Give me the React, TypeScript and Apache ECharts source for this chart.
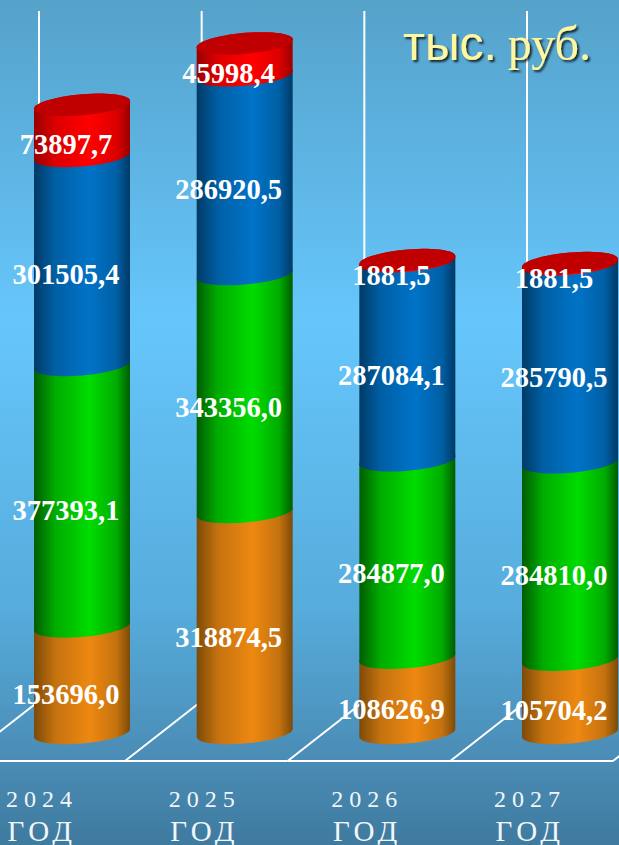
import React, { useEffect, useRef } from "react";
import * as echarts from "echarts";

const years = ["2024", "2025", "2026", "2027"];
const orangeValues = [153696.0, 318874.5, 108626.9, 105704.2];
const greenValues = [377393.1, 343356.0, 284877.0, 284810.0];
const blueValues = [301505.4, 286920.5, 287084.1, 285790.5];
const redValues = [73897.7, 45998.4, 1881.5, 1881.5];
const stackValues = [orangeValues, greenValues, blueValues, redValues];
const stackNames = ["Оранжевый", "Зелёный", "Синий", "Красный"];
const stackRamps = [
  ["#7d4a07", "#c4720f", "#ee8811"],
  ["#005c00", "#00ac00", "#00dc00"],
  ["#003a66", "#005fa4", "#0073c8"],
  ["#990000", "#dc0000", "#ff0000"],
];
const capColor = "#c00000";
const RX = 48;
const RY = 10.5;
const TILT = 4;
const STEP = 162.67;

const fmt = (v: number) => v.toFixed(1).replace(".", ",");

function arc(cx: number, cy: number, from: number, to: number): number[][] {
  const pts: number[][] = [];
  const n = 30;
  for (let i = 0; i <= n; i++) {
    const t = from + ((to - from) * i) / n;
    pts.push([cx + RX * Math.cos(t), cy + RY * Math.sin(t) - TILT * Math.cos(t)]);
  }
  return pts;
}

function stackedRows(idx: number) {
  return years.map((_, c) => {
    let base = 0;
    for (let s = 0; s < idx; s++) base += stackValues[s][c];
    return [c, base, base + stackValues[idx][c], stackValues[idx][c]];
  });
}

function ramp(colors: string[]) {
  return new echarts.graphic.LinearGradient(0, 0, 1, 0, [
    { offset: 0, color: colors[0] },
    { offset: 0.22, color: colors[1] },
    { offset: 0.58, color: colors[2] },
    { offset: 0.86, color: colors[1] },
    { offset: 1, color: colors[0] },
  ]);
}

function segmentSeries(idx: number) {
  const fill = ramp(stackRamps[idx]);
  return {
    type: "custom",
    name: stackNames[idx],
    z: 3 + idx,
    clip: false,
    data: stackedRows(idx),
    encode: { x: 0, y: 2 },
    renderItem: (_: any, api: any) => {
      const bottom = api.coord([api.value(0), api.value(1)]);
      const top = api.coord([api.value(0), api.value(2)]);
      const cx = bottom[0];
      const children: any[] = [
        {
          type: "polygon",
          shape: { points: [...arc(cx, bottom[1], Math.PI, 0), ...arc(cx, top[1], 0, -Math.PI)] },
          style: { fill },
        },
      ];
      if (idx === stackValues.length - 1) {
        children.push({
          type: "polygon",
          shape: { points: [...arc(cx, top[1], Math.PI, 0), ...arc(cx, top[1], 0, -Math.PI)] },
          style: { fill: capColor },
        });
      }
      return { type: "group", children };
    },
  };
}

function labelSeries() {
  const rows: number[][] = [];
  stackValues.forEach((_, i) => rows.push(...stackedRows(i)));
  return {
    type: "custom",
    name: "Подписи",
    z: 20,
    clip: false,
    data: rows,
    encode: { x: 0, y: 2 },
    renderItem: (_: any, api: any) => {
      const mid = api.coord([api.value(0), (api.value(1) + api.value(2)) / 2]);
      return {
        type: "text",
        x: mid[0] - 16,
        y: mid[1] + 14.5,
        style: {
          text: fmt(api.value(3)),
          fill: "#ffffff",
          font: 'bold 28.5px "Liberation Serif"',
          align: "center",
          verticalAlign: "middle",
        },
      };
    },
  };
}

function frameSeries() {
  return {
    type: "custom",
    name: "Каркас",
    z: 1,
    clip: false,
    data: years.map((_, c) => [c, 0]),
    encode: { x: 0, y: 1 },
    renderItem: (params: any, api: any) => {
      const p = api.coord([api.value(0), 0]);
      const cx = p[0];
      const lineStyle = { stroke: "#ffffff", lineWidth: 2, fill: "none" };
      const floorY = p[1] + 28;
      const isLast = params.dataIndex === years.length - 1;
      const footLeft = cx + 43 - STEP;
      const children: any[] = [
        {
          type: "polyline",
          shape: { points: [[footLeft, floorY], [cx - 43, floorY - 60], [cx - 43, 11]] },
          style: lineStyle,
        },
        {
          type: "line",
          shape: { x1: footLeft, y1: floorY, x2: cx + 43, y2: floorY },
          style: lineStyle,
        },
      ];
      if (isLast) {
        children.push({
          type: "line",
          shape: { x1: cx + 43, y1: floorY, x2: cx + 43 + 20, y2: floorY - 15.6 },
          style: lineStyle,
        });
      }
      return { type: "group", children };
    },
  };
}

export default function App() {
  const ref = useRef<HTMLDivElement>(null);
  useEffect(() => {
    document.body.style.margin = "0";
    const chart = echarts.init(ref.current!, undefined, { renderer: "svg" });
    const titleText = {
      fontSize: 48,
      fontWeight: "normal",
      color: "#fff6a0",
      textShadowColor: "rgba(0,0,0,0.8)",
      textShadowBlur: 2,
      textShadowOffsetX: 2,
      textShadowOffsetY: 2,
    };
    chart.setOption({
      animation: false,
      backgroundColor: new echarts.graphic.LinearGradient(0, 0, 0, 1, [
        { offset: 0, color: "#55a2ca" },
        { offset: 0.38, color: "#66c6fb" },
        { offset: 0.72, color: "#56acdc" },
        { offset: 0.9, color: "#4a8cb5" },
        { offset: 1, color: "#3f7a9f" },
      ]),
      title: {
        text: "{a|тыс.} {b|руб.}",
        left: 403,
        top: 19,
        padding: 0,
        textStyle: {
          rich: {
            a: { ...titleText, fontFamily: "Liberation Sans" },
            b: { ...titleText, fontFamily: "Liberation Serif", padding: [0, 0, 0, 6] },
          },
        },
      },
      grid: { left: 0.67, width: 650.67, top: 40, height: 693, outerBoundsMode: "none", containLabel: false },
      xAxis: {
        type: "category",
        data: years,
        axisLine: { show: false },
        axisTick: { show: false },
        axisLabel: {
          interval: 0,
          margin: 50,
          padding: [0, 80, 0, 0],
          formatter: (v: string) => `{y|${v}}\n{g|ГОД}`,
          rich: {
            y: { fontFamily: "Liberation Serif", fontSize: 24, color: "#f2f6f8", lineHeight: 32 },
            g: { fontFamily: "Liberation Serif", fontSize: 29, color: "#f2f6f8", lineHeight: 32 },
          },
        },
      },
      yAxis: { type: "value", min: 0, max: 1000000, show: false, splitLine: { show: false } },
      series: [frameSeries(), ...stackValues.map((_, i) => segmentSeries(i)), labelSeries()],
    });
    return () => chart.dispose();
  }, []);
  return (
    <>
      <style>{`text[style*="24px"]{letter-spacing:6px}text[style*="29px"]{letter-spacing:4.5px}`}</style>
      <div ref={ref} style={{ width: 619, height: 845 }} />
    </>
  );
}
